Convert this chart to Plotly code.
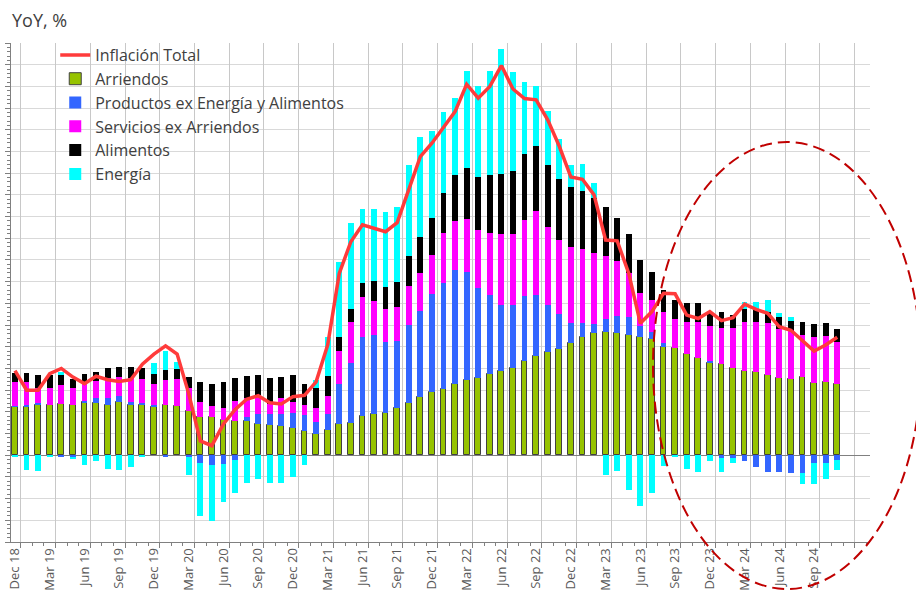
import pandas as pd
import plotly.graph_objects as go

# monthly, Dec 2018 .. Nov 2024
months = pd.date_range("2018-12-01", "2024-11-01", freq="MS")

tick_labels = ["Dec 18", "Mar 19", "Jun 19", "Sep 19", "Dec 19", "Mar 20", "Jun 20", "Sep 20",
               "Dec 20", "Mar 21", "Jun 21", "Sep 21", "Dec 21", "Mar 22", "Jun 22", "Sep 22",
               "Dec 22", "Mar 23", "Jun 23", "Sep 23", "Dec 23", "Mar 24", "Jun 24", "Sep 24"]

# contributions to YoY inflation, pp
arriendos = [1.12, 1.12, 1.16, 1.16, 1.19, 1.16, 1.22, 1.21, 1.16, 1.23, 1.16, 1.16,
             1.12, 1.15, 1.14, 1.02, 0.88, 0.88, 0.82, 0.79, 0.79, 0.71, 0.69, 0.67,
             0.62, 0.56, 0.50, 0.58, 0.72, 0.75, 0.90, 0.96, 0.98, 1.09, 1.21, 1.35,
             1.46, 1.52, 1.63, 1.73, 1.77, 1.88, 1.95, 2.00, 2.18, 2.28, 2.38, 2.45,
             2.58, 2.73, 2.81, 2.83, 2.81, 2.78, 2.72, 2.67, 2.50, 2.48, 2.33, 2.25,
             2.13, 2.10, 2.00, 1.94, 1.92, 1.86, 1.77, 1.75, 1.81, 1.67, 1.69, 1.65]
productos = [0.01, 0.04, 0.05, 0.00, -0.05, -0.06, 0.03, 0.10, 0.17, 0.13, 0.07, 0.04,
             0.03, -0.05, 0.00, -0.03, -0.18, -0.22, -0.20, -0.10, 0.09, 0.23, 0.27, 0.29,
             0.36, 0.36, 0.27, 0.36, 0.93, 1.37, 1.83, 1.81, 1.64, 1.55, 1.79, 1.98,
             2.26, 2.46, 2.64, 2.50, 2.08, 1.81, 1.51, 1.46, 1.49, 1.41, 1.08, 0.80,
             0.46, 0.31, 0.21, 0.32, 0.41, 0.41, 0.26, 0.16, 0.08, -0.01, 0.00, 0.00,
             0.04, -0.06, -0.06, -0.13, -0.27, -0.38, -0.38, -0.41, -0.42, -0.19, -0.19, -0.10]
servicios = [0.55, 0.52, 0.33, 0.40, 0.43, 0.38, 0.38, 0.40, 0.45, 0.45, 0.54, 0.55,
             0.50, 0.58, 0.61, 0.54, 0.35, 0.26, 0.27, 0.46, 0.44, 0.44, 0.22, 0.35,
             0.25, 0.23, 0.31, 0.42, 0.75, 0.96, 0.92, 0.78, 0.76, 0.77, 0.90, 0.86,
             0.90, 1.14, 1.13, 1.22, 1.33, 1.43, 1.63, 1.63, 1.75, 1.94, 1.79, 1.71,
             1.75, 1.71, 1.65, 1.43, 1.26, 1.02, 0.77, 0.75, 0.73, 0.66, 0.75, 0.83,
             0.81, 0.84, 0.94, 1.14, 1.16, 1.19, 1.15, 1.11, 0.96, 1.05, 1.06, 0.97]
alimentos = [0.22, 0.22, 0.32, 0.29, 0.23, 0.21, 0.25, 0.21, 0.24, 0.23, 0.27, 0.27,
             0.23, 0.23, 0.23, 0.25, 0.46, 0.51, 0.60, 0.53, 0.51, 0.48, 0.60, 0.50,
             0.63, 0.50, 0.46, 0.46, 0.33, 0.28, 0.31, 0.47, 0.49, 0.59, 0.70, 0.83,
             0.84, 0.93, 1.05, 1.18, 1.24, 1.33, 1.39, 1.45, 1.53, 1.49, 1.44, 1.40,
             1.40, 1.34, 1.25, 1.14, 0.98, 0.88, 0.75, 0.65, 0.50, 0.44, 0.42, 0.42,
             0.29, 0.35, 0.29, 0.30, 0.27, 0.24, 0.27, 0.24, 0.31, 0.30, 0.30, 0.30]
energia = [-0.02, -0.33, -0.36, -0.03, 0.07, -0.02, -0.23, -0.14, -0.31, -0.33, -0.28, -0.02,
           0.25, 0.44, 0.17, -0.43, -1.23, -1.30, -0.88, -0.78, -0.63, -0.54, -0.63, -0.65,
           -0.50, -0.23, 0.19, 0.91, 1.73, 1.99, 1.71, 1.65, 1.73, 1.73, 2.08, 2.31,
           2.02, 1.87, 1.78, 2.23, 2.10, 2.41, 2.89, 2.29, 1.64, 1.38, 1.25, 0.93,
           0.50, 0.62, 0.35, -0.45, -0.36, -0.81, -1.16, -0.88, -0.24, -0.03, -0.31, -0.38,
           -0.14, -0.32, -0.13, 0.14, 0.19, 0.29, 0.08, 0.08, -0.25, -0.48, -0.36, -0.23]
inflacion_total = [1.95, 1.50, 1.50, 1.88, 2.00, 1.80, 1.65, 1.82, 1.74, 1.70, 1.74, 2.10,
                   2.33, 2.52, 2.33, 1.42, 0.33, 0.22, 0.72, 1.05, 1.29, 1.37, 1.21, 1.18,
                   1.35, 1.38, 1.69, 2.54, 4.19, 4.92, 5.31, 5.23, 5.15, 5.36, 6.12, 6.88,
                   7.19, 7.56, 7.92, 8.55, 8.23, 8.50, 8.98, 8.44, 8.22, 8.19, 7.73, 7.12,
                   6.41, 6.36, 6.00, 4.96, 4.94, 4.19, 3.04, 3.31, 3.73, 3.72, 3.23, 3.15,
                   3.31, 3.10, 3.17, 3.48, 3.36, 3.27, 2.96, 2.88, 2.63, 2.40, 2.54, 2.72]

x = list(range(len(months)))
tick_pos = [3 * k for k in range(len(tick_labels))]
x_range = [-0.345, 73.83]

FONT = "Open Sans"
GREY = "#404040"

fig = go.Figure()

fig.add_trace(go.Scatter(x=x, y=inflacion_total, name="Inflación Total", mode="lines",
                         line=dict(color="#FF3B3B", width=3.5)))

components = [
    ("Arriendos", arriendos, "#96C300", dict(color="#404040", width=1)),
    ("Productos ex Energía y Alimentos", productos, "#3366FF", dict(width=0)),
    ("Servicios ex Arriendos", servicios, "#FF00FF", dict(width=0)),
    ("Alimentos", alimentos, "#000000", dict(width=0)),
    ("Energía", energia, "#00FFFF", dict(width=0)),
]
for name, vals, color, outline in components:
    fig.add_trace(go.Bar(x=x, y=vals, name=name, width=0.5,
                         marker=dict(color=color, line=outline)))

# invisible trace so the gridline axis gets drawn
fig.add_trace(go.Scatter(x=[0], y=[0], xaxis="x2", mode="lines", opacity=0,
                         showlegend=False, hoverinfo="skip"))

fig.update_layout(
    width=916, height=602,
    margin=dict(l=11, r=46, t=43, b=60),
    barmode="relative",
    bargap=0,
    plot_bgcolor="white",
    paper_bgcolor="white",
    font=dict(family=FONT, color=GREY),
    legend=dict(x=0.0515, y=1.01, xanchor="left", yanchor="top",
                traceorder="normal", bgcolor="rgba(0,0,0,0)",
                font=dict(size=16, color=GREY, family=FONT)),
    xaxis=dict(range=x_range, tickmode="array", tickvals=tick_pos, ticktext=tick_labels,
               tickangle=-90, ticks="", showgrid=False, zeroline=False, automargin=False,
               showline=True, linecolor="#808080",
               tickfont=dict(size=13, color="#595959", family=FONT)),
    xaxis2=dict(overlaying="x", range=x_range, side="bottom", showticklabels=False,
                tick0=0.5, dtick=3, ticks="outside", ticklen=5, tickcolor="#808080",
                showgrid=True, gridcolor="#C8C8C8", zeroline=False, automargin=False,
                minor=dict(tick0=0.5, dtick=1, ticks="outside", ticklen=3,
                           tickcolor="#808080", showgrid=False)),
    yaxis=dict(range=[-2, 9.5], dtick=0.5, showticklabels=False, automargin=False,
               ticks="outside", ticklen=5, tickcolor="#808080",
               showgrid=True, gridcolor="#D9D9D9",
               zeroline=True, zerolinecolor="#808080", zerolinewidth=1,
               showline=True, linecolor="#808080",
               minor=dict(dtick=0.1, ticks="outside", ticklen=3, tickcolor="#808080",
                          showgrid=False)),
    annotations=[dict(text="YoY, %", xref="paper", yref="paper", x=-0.001, y=1.046,
                      xanchor="left", yanchor="middle", showarrow=False,
                      font=dict(size=18, color=GREY, family=FONT))],
    shapes=[dict(type="circle", xref="paper", yref="paper",
                 x0=0.7474, x1=1.0594, y0=-0.0942, y1=0.8016,
                 line=dict(color="#C00000", width=2, dash="12px,6px"))],
)

# drop the default 8px page margin so the figure fills the window exactly
fig.write_html("out.html", config={"displayModeBar": False},
               post_script="document.body.style.margin = '0';")
